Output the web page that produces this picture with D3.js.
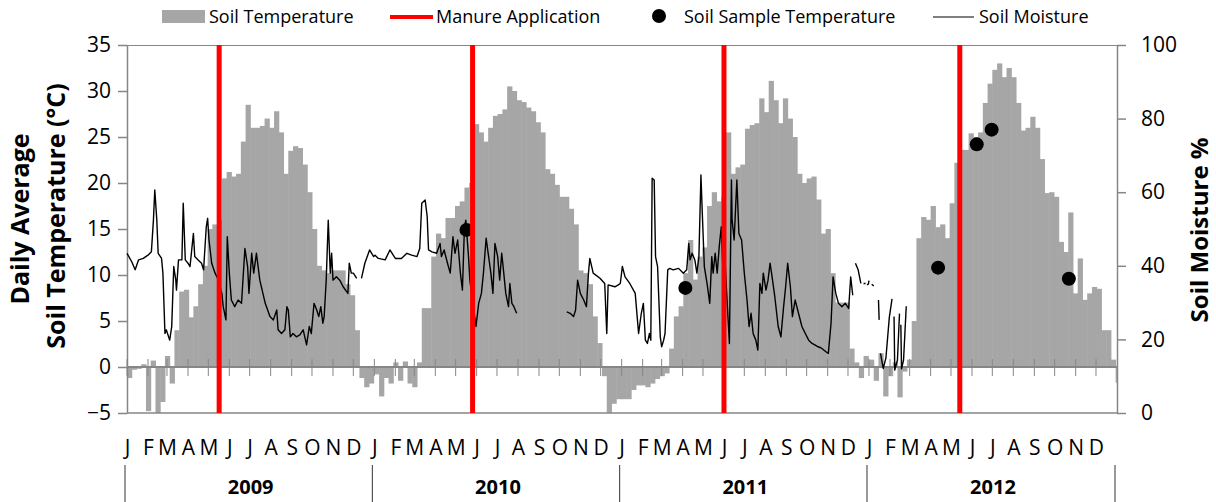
<!DOCTYPE html>
<html>
<head>
<meta charset="utf-8">
<script src="https://cdn.jsdelivr.net/npm/d3@7"></script>
<style>
  body { margin: 0; background: #fff; }
  svg text { font-family: "Open Sans", sans-serif; fill: #000; }
</style>
</head>
<body>
<div id="chart"></div>
<script>
// chart data
var years = [2009, 2010, 2011, 2012];
var monthLabels = ["J", "F", "M", "A", "M", "J", "J", "A", "S", "O", "N", "D"];
var tempTicks = [-5, 0, 5, 10, 15, 20, 25, 30, 35];
var moistTicks = [0, 20, 40, 60, 80, 100];

// weekly soil temperature (°C), week k starts Jan 1 + 7k
var temp2009 = [-1.2, -0.3, -0.2, 0.3, -4.8, 0.7, -5.0, -3.8, 1.2, -1.8, 4, 8.2, 8.4, 5.4, 6.6, 9, 11, 15, 15.5, 16,
  20.5, 21.2, 20.7, 21, 24.5, 28.5, 26, 26, 26.2, 27, 26, 27.8, 25.5, 21, 23.5, 24, 23.8, 22, 19, 15,
  11, 10.5, 10.2, 10.5, 10.5, 10.5, 9, 7.8, 4, -1.2, -2.2, -1.8, -0.5];
var temp2010 = [-0.8, -3.2, -1.2, -1.8, 0.5, -1.5, 0.6, -1.8, -2.2, 0.5, 6.4, 6.4, 12, 14.5, 14, 16.2, 16.2, 17.5, 18, 19.5,
  20, 26.4, 25.5, 24.5, 26, 27.3, 27.5, 28, 30.5, 30, 29, 28.8, 28.2, 27.8, 26.6, 25.5, 21.5, 21, 19.8, 18.5,
  18.5, 17.2, 15.5, 10.5, 10.2, 9, 5.5, 2.6, -1, -5, -4, -3.5, -3.5];
var temp2011 = [-3.5, -3.5, -2.5, -2, -2, -2.2, -1.8, -1.3, -1, -0.7, 2, 5.5, 6.6, 10.2, 13.8, 9.5, 12, 13, 17.5, 19,
  18, 18.5, 25.5, 21, 21.7, 22, 25.9, 26.3, 26.5, 29.2, 27.7, 31.1, 29, 26.5, 29.2, 27, 25, 21, 20, 20.5,
  20.7, 18.2, 14.5, 15, 10.2, 7, 7, 7, 2, 0.5, -1.2, 1.2, 0.5];
var temp2012 = [0.8, -1.5, 1.5, -3.2, -1, 0.5, -3.3, -0.5, 0.8, 5, 14, 16.3, 16, 17.5, 15.2, 15.5, 14, 17.8, 22.2, 23.6,
  23.6, 25.4, 25, 25.5, 28.7, 30.8, 32.3, 33, 31.5, 32.5, 31.5, 28.7, 25.7, 26, 27.2, 26, 22.6, 18.9, 19, 18.5,
  13.6, 12.5, 16.8, 8, 11.8, 7.3, 8, 8.7, 8.5, 4, 4, 0.8, -1.7];

// soil moisture (%), [day of year, value], null = no reading
var moist2009 = [[0, 43.4], [7, 41.1], [12, 38.9], [17, 41.6], [24, 42], [31, 42.9], [36, 43.8], [39, 52.4], [41, 60.6], [44, 52.4],
  [46, 43.4], [51, 42], [53, 38], [56, 21.6], [58, 22.6], [63, 19.8], [66, 23.5], [69, 39.8], [72, 36.1], [73, 33.4],
  [76, 41.6], [81, 41.6], [83, 57], [86, 41.6], [90, 40.7], [93, 39.8], [98, 48.8], [100, 42.5], [105, 41.6], [110, 40.7],
  [113, 38.9], [117, 50.6], [119, 52.9], [121, 47], [125, 40.7], [130, 38], [135, 36.1], [140, 32.5], [142, 28.9], [146, 25.3],
  [148, 47.9], [151, 38], [154, 30.7], [159, 28.9], [164, 30.7], [169, 29.8], [174, 44.7], [178, 39.8], [180, 32.5], [184, 43.4],
  [187, 38], [191, 43.4], [196, 36.1], [204, 29.8], [211, 26.2], [216, 25.3], [221, 28], [223, 22.6], [228, 21.6], [233, 22.6],
  [236, 28.9], [238, 28], [241, 20.7], [245, 21.6], [250, 20.7], [255, 21.2], [260, 22.6], [265, 18.5], [269, 23.5], [272, 21.6],
  [276, 29.8], [280, 28], [283, 26.2], [286, 28.9], [289, 24.4], [291, 26.2], [294, 36.1], [297, 52.4], [300, 38], [302, 43.4],
  [304, 36.1], [309, 37], [314, 36.1], [319, 34.3], [326, 32.5], [328, 40.7], [331, 38], [334, 38], [339, 36.6], [342, null],
  [346, 36.6], [351, 40.7], [358, 44.3], [364, 42.5]];
var moist2010 = [[1, 42.9], [6, 42], [16, 41.6], [23, 44.3], [31, 42], [40, 42], [48, 43.4], [55, 42.9], [63, 42.5], [67, 44.7],
  [70, 57], [75, 57.9], [78, 53.4], [80, 44.3], [85, 43.8], [92, 43.4], [97, 46.1], [99, 42.5], [103, 44.3], [108, 40.7],
  [112, 38], [116, 47.9], [119, 43.4], [123, 47], [127, 38], [130, 33.4], [133, 50.6], [135, 52.4], [139, 42.5], [141, 36.1],
  [146, 28.9], [150, 23.5], [154, 29.8], [158, 32.5], [161, 38], [165, 47.5], [168, 43.4], [172, 38], [175, 32.5], [178, 46.1],
  [182, 42.5], [185, 36.1], [188, 43.4], [191, 38], [194, 32.5], [198, 28.9], [200, 35.2], [203, 29.8], [206, 28.9], [210, 27.1],
  [211, null], [284, 27.5], [289, 27.1], [294, 26.2], [297, 28], [300, 36.1], [304, 32.5], [309, 30.7], [313, 28.9], [316, 38],
  [318, 42], [323, 38], [333, 36.6], [340, 35.2], [343, 21.6], [345, 34.8], [355, 34.3], [360, 34.8], [363, 35.2]];
var moist2011 = [[1, 39.8], [5, 37], [12, 35.2], [20, 32.5], [25, 21.6], [29, 27.1], [32, 29.8], [35, 19.8], [38, 18.9], [41, 21.6],
  [43, 19.8], [45, 63.8], [48, 63.3], [50, 42.5], [53, 39.8], [57, 20.7], [59, 18], [62, 19.8], [64, 21.6], [68, 38.9],
  [71, 39.3], [76, 38.9], [84, 39.3], [91, 38], [96, 38.9], [99, 46.1], [101, 41.6], [104, 43.4], [108, 41.6], [111, 38],
  [114, 42.5], [117, 64.7], [119, 54.3], [122, 39.8], [126, 35.2], [130, 29.8], [133, 42.5], [135, 38], [138, 43.4], [141, 38],
  [144, 45.2], [147, 50.6], [149, 40.7], [152, 43.4], [155, 32.5], [159, 18.9], [162, 63.3], [163, 52.4], [166, 47], [170, 63.3],
  [173, 48.8], [177, 47], [181, 38], [185, 30.7], [188, 23.5], [191, 27.1], [194, 21.6], [198, 19.8], [201, 17.1], [204, 35.2],
  [207, 32.5], [209, 38], [213, 33.4], [216, 36.1], [219, 40.7], [222, 37], [226, 31.6], [231, 23.5], [235, 20.7], [239, 28.9],
  [242, 34.3], [245, 40.7], [249, 34.3], [252, 26.2], [256, 30.7], [261, 27.1], [266, 23.5], [271, 21.6], [276, 19.8], [281, 18.9],
  [285, 18.5], [290, 18], [295, 17.6], [301, 16.7], [305, 16.2], [309, 24.4], [312, 37], [316, 32.5], [320, 29.8], [325, 28.9],
  [330, 29.8], [335, 28.4], [338, 37], [341, 32], [343, null], [345, 40.7], [349, 38.9], [353, 35.2], [355, null], [357, 35.2],
  [360, 35.2], [361, null], [362, 34.8], [364, 35]];
var moist2012 = [[0, 36], [2, null], [4, 35], [7, 34.5], [9, null], [14, 30.7], [15, 25.3], [16, null], [17, 16.2], [21, 12.1],
  [25, 15], [30, 26], [34, 31], [35, null], [37, 26.2], [38, 11.7], [42, 14.4], [45, 27], [46, null], [47, 24],
  [48, 12], [51, 14.4], [55, 29]];

var manureDates = ["2009-05-17", "2010-05-26", "2011-06-01", "2012-05-14"];
var sampleDates = ["2010-05-17", "2011-04-05", "2012-04-12", "2012-06-08", "2012-06-30", "2012-10-22"];
var sampleTemps = [14.9, 8.6, 10.8, 24.2, 25.8, 9.6];

// layout
var svgWidth = 1216, svgHeight = 502;
var margin = {top: 45, right: 99, bottom: 89, left: 127};
var width = svgWidth - margin.left - margin.right;
var height = svgHeight - margin.top - margin.bottom;

var grey = "#a6a6a6", axisGrey = "#868686";
var parseDate = d3.timeParse("%Y-%m-%d");

var svg = d3.select("#chart").append("svg")
  .attr("width", svgWidth)
  .attr("height", svgHeight);

var chartGroup = svg.append("g")
  .attr("transform", `translate(${margin.left}, ${margin.top})`);

// scales
var start = new Date(years[0], 0, 1);
var end = new Date(years[years.length - 1] + 1, 0, 1);
var xTimeScale = d3.scaleTime().domain([start, end]).range([0, width]);
var yTemp = d3.scaleLinear().domain([-5, 35]).range([height, 0]);
var yMoist = d3.scaleLinear().domain([0, 100]).range([height, 0]);

// build weekly bars
var tempData = [];
[temp2009, temp2010, temp2011, temp2012].forEach(function(arr, i) {
  var y0 = new Date(years[i], 0, 1), y1 = new Date(years[i] + 1, 0, 1);
  arr.forEach(function(v, k) {
    var d0 = d3.timeDay.offset(y0, 7 * k);
    var d1 = d3.timeDay.offset(d0, 7);
    if (d1 > y1) d1 = y1;
    tempData.push({d0: d0, d1: d1, v: v});
  });
});

var moistData = [];
[moist2009, moist2010, moist2011, moist2012].forEach(function(arr, i) {
  arr.forEach(function(p) {
    moistData.push({date: d3.timeDay.offset(new Date(years[i], 0, 1), p[0]), value: p[1]});
  });
});

// soil temperature bars
chartGroup.append("g").selectAll("rect")
  .data(tempData)
  .enter()
  .append("rect")
  .attr("x", d => xTimeScale(d.d0))
  .attr("width", d => xTimeScale(d.d1) - xTimeScale(d.d0) + 0.5)
  .attr("y", d => yTemp(Math.max(d.v, 0)))
  .attr("height", d => Math.abs(yTemp(d.v) - yTemp(0)))
  .attr("fill", grey);

// plot border (top + bottom)
chartGroup.append("line")
  .attr("x1", 0).attr("x2", width).attr("y1", 0.5).attr("y2", 0.5)
  .attr("stroke", axisGrey);
chartGroup.append("line")
  .attr("x1", 0).attr("x2", width).attr("y1", height).attr("y2", height)
  .attr("stroke", axisGrey).attr("stroke-width", 1.5);

// zero line with month ticks crossing it
var months = d3.timeMonth.range(start, end);
chartGroup.append("line")
  .attr("x1", 0).attr("x2", width)
  .attr("y1", yTemp(0)).attr("y2", yTemp(0))
  .attr("stroke", axisGrey).attr("stroke-width", 2);
chartGroup.append("g").selectAll("line")
  .data(months)
  .enter()
  .append("line")
  .attr("x1", d => xTimeScale(d)).attr("x2", d => xTimeScale(d))
  .attr("y1", yTemp(0) - 8).attr("y2", yTemp(0) + 9)
  .attr("stroke", axisGrey);

// left axis
var leftAxis = d3.axisLeft(yTemp).tickValues(tempTicks).tickSize(9).tickSizeOuter(0).tickPadding(7);
var gl = chartGroup.append("g").call(leftAxis);
// right axis
var rightAxis = d3.axisRight(yMoist).tickValues(moistTicks).tickSize(9).tickSizeOuter(0).tickPadding(15);
var gr = chartGroup.append("g").attr("transform", `translate(${width}, 0)`).call(rightAxis);

[gl, gr].forEach(function(g) {
  g.selectAll("path, line").attr("stroke", axisGrey).attr("stroke-width", 1.5);
  g.selectAll("text").attr("font-size", 21).attr("font-family", "Open Sans");
});

// month labels
var bottomAxis = d3.axisBottom(xTimeScale)
  .tickValues(months)
  .tickFormat(d => monthLabels[d.getMonth()])
  .tickSize(0)
  .tickPadding(27);
var gb = chartGroup.append("g").attr("transform", `translate(0, ${height})`).call(bottomAxis);
gb.select(".domain").remove();
gb.selectAll("text").attr("font-size", 21).attr("font-family", "Open Sans");

// year separators and labels
var yearStarts = years.map(y => new Date(y, 0, 1)).concat([end]);
chartGroup.append("g").selectAll("line")
  .data(yearStarts)
  .enter()
  .append("line")
  .attr("x1", d => xTimeScale(d) - 2).attr("x2", d => xTimeScale(d) - 2)
  .attr("y1", height + 52).attr("y2", svgHeight - margin.top)
  .attr("stroke", "#333").attr("stroke-width", 1);
chartGroup.append("g").selectAll("text")
  .data(years)
  .enter()
  .append("text")
  .attr("x", d => (xTimeScale(new Date(d, 0, 1)) + xTimeScale(new Date(d + 1, 0, 1))) / 2)
  .attr("y", height + 81)
  .attr("text-anchor", "middle")
  .attr("font-size", 20)
  .attr("font-weight", "bold")
  .text(d => d);

// soil moisture line
var line1 = d3.line()
  .defined(d => d.value !== null)
  .x(d => xTimeScale(d.date))
  .y(d => yMoist(d.value));
chartGroup.append("path")
  .datum(moistData)
  .attr("d", line1)
  .attr("fill", "none")
  .attr("stroke", "#000")
  .attr("stroke-width", 1.4)
  .attr("stroke-linejoin", "round");

// soil sample temperatures
chartGroup.append("g").selectAll("circle")
  .data(sampleDates)
  .enter()
  .append("circle")
  .attr("cx", d => xTimeScale(parseDate(d)))
  .attr("cy", (d, i) => yTemp(sampleTemps[i]))
  .attr("r", 7)
  .attr("fill", "#000");

// manure application
chartGroup.append("g").selectAll("line")
  .data(manureDates)
  .enter()
  .append("line")
  .attr("x1", d => xTimeScale(parseDate(d))).attr("x2", d => xTimeScale(parseDate(d)))
  .attr("y1", 0).attr("y2", height)
  .attr("stroke", "#ff0000")
  .attr("stroke-width", 5);

// axis titles
svg.append("text")
  .attr("transform", "translate(29, 219) rotate(-90)")
  .attr("text-anchor", "middle")
  .attr("font-size", 25).attr("font-weight", "bold")
  .text("Daily Average");
svg.append("text")
  .attr("transform", "translate(65, 216) rotate(-90)")
  .attr("text-anchor", "middle")
  .attr("font-size", 25).attr("font-weight", "bold")
  .text("Soil Temperature (°C)");
svg.append("text")
  .attr("transform", "translate(1208, 230) rotate(-90)")
  .attr("text-anchor", "middle")
  .attr("font-size", 24).attr("font-weight", "bold")
  .text("Soil Moisture %");

// legend
var legend = svg.append("g");
legend.append("rect").attr("x", 162).attr("y", 10).attr("width", 43).attr("height", 13).attr("fill", grey);
legend.append("text").attr("x", 209).attr("y", 23).attr("font-size", 18).text("Soil Temperature");
legend.append("line").attr("x1", 390).attr("x2", 433).attr("y1", 17).attr("y2", 17)
  .attr("stroke", "#ff0000").attr("stroke-width", 4);
legend.append("text").attr("x", 436).attr("y", 23).attr("font-size", 18).text("Manure Application");
legend.append("circle").attr("cx", 659).attr("cy", 16).attr("r", 7).attr("fill", "#000");
legend.append("text").attr("x", 684).attr("y", 23).attr("font-size", 18).text("Soil Sample Temperature");
legend.append("line").attr("x1", 933).attr("x2", 974).attr("y1", 17).attr("y2", 17)
  .attr("stroke", "#000").attr("stroke-width", 1.2);
legend.append("text").attr("x", 979).attr("y", 23).attr("font-size", 18).text("Soil Moisture");
</script>
</body>
</html>
